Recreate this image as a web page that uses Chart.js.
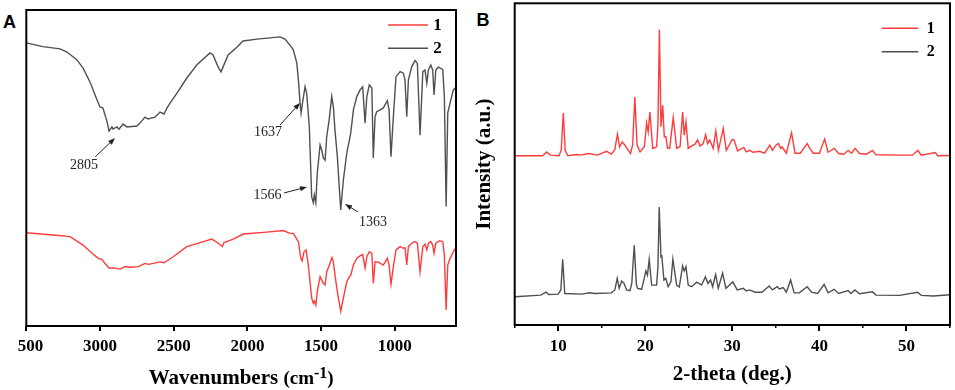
<!DOCTYPE html>
<html><head><meta charset="utf-8">
<script src="https://cdn.jsdelivr.net/npm/chart.js@4.4.0/dist/chart.umd.min.js"></script>
<style>
html,body{margin:0;padding:0;background:#fff;width:955px;height:390px;overflow:hidden;position:relative}
canvas{position:absolute;top:0}
#cA{left:18px}
#cB{left:470px}
.pl{position:absolute;font:bold 18px "Liberation Sans",Arial,sans-serif;line-height:18px;color:#000}
</style></head><body>
<div class="pl" style="left:3px;top:12.5px">A</div>
<div class="pl" style="left:476.5px;top:11px">B</div>
<canvas id="cA" width="452" height="390"></canvas>
<canvas id="cB" width="485" height="390"></canvas>
<script>
// ---------- data ----------
const seriesNames = ['1', '2'];

// Panel A: FTIR, [wavenumber cm-1, transmittance a.u.]
const ftirSample1 = [[3500,29.5],[3319,28.8],[3203,28.3],[3115,25.6],[3056,23.1],[3011,21.4],[2988,21.1],[2966,19.8],[2937,18.3],[2910,18.4],[2864,18.0],[2830,18.8],[2796,18.6],[2740,18.8],[2695,19.8],[2672,19.5],[2638,19.8],[2593,20.3],[2566,20.0],[2503,21.9],[2412,25.1],[2321,26.4],[2242,27.5],[2197,26.2],[2170,25.1],[2159,26.4],[2096,27.5],[2028,29.1],[1869,29.7],[1756,30.2],[1711,29.3],[1688,29.3],[1654,26.7],[1638,21.4],[1629,20.6],[1616,23.5],[1602,24.1],[1587,19.3],[1564,8.8],[1553,7.2],[1546,7.9],[1536,6.6],[1526,10.9],[1507,15.6],[1496,14.6],[1485,13.5],[1473,13.0],[1462,17.2],[1444,19.3],[1426,21.7],[1417,20.3],[1406,16.1],[1390,10.9],[1367,4.7],[1349,8.8],[1326,14.0],[1308,15.6],[1299,16.1],[1281,19.3],[1258,21.4],[1236,22.2],[1218,22.7],[1202,18.3],[1190,21.9],[1173,23.5],[1156,23.0],[1146,13.5],[1134,20.3],[1112,20.2],[1078,19.3],[1051,21.4],[1039,19.3],[1026,13.2],[1010,18.8],[992,24.1],[964,25.1],[942,24.6],[931,24.8],[919,19.3],[908,25.1],[885,26.2],[863,26.7],[847,26.2],[829,17.2],[810,25.1],[795,25.9],[783,24.1],[772,26.2],[756,26.7],[743,25.6],[734,23.0],[722,26.2],[697,27.0],[675,26.7],[664,22.5],[652,5.1],[641,19.3],[625,21.4],[603,23.5],[585,25.0]];
const ftirSample2 = [[3500,89.6],[3387,88.4],[3271,87.7],[3224,86.7],[3156,84.2],[3115,81.6],[3068,77.2],[3020,71.5],[3000,69.3],[2980,69.0],[2952,64.6],[2939,61.7],[2919,63.0],[2912,62.3],[2885,63.0],[2871,62.3],[2844,63.9],[2817,63.0],[2749,63.3],[2729,64.2],[2695,66.1],[2674,65.5],[2627,66.1],[2593,67.7],[2566,67.1],[2545,69.0],[2524,70.6],[2478,73.7],[2412,78.4],[2344,82.6],[2254,86.4],[2233,85.8],[2199,82.0],[2179,80.4],[2165,82.0],[2131,85.8],[2070,88.3],[2030,90.2],[1935,90.8],[1779,91.5],[1745,90.8],[1697,88.0],[1688,87.3],[1665,83.2],[1654,77.8],[1643,70.6],[1636,67.4],[1625,71.0],[1609,75.7],[1598,73.7],[1580,63.0],[1564,40.9],[1553,39.0],[1546,41.5],[1536,39.0],[1526,48.4],[1507,57.3],[1496,55.7],[1485,53.2],[1473,52.5],[1462,59.9],[1444,65.8],[1428,72.6],[1417,69.4],[1406,62.0],[1390,53.6],[1367,36.7],[1349,46.2],[1326,54.7],[1308,58.9],[1299,61.1],[1281,68.4],[1258,72.6],[1236,74.7],[1218,75.7],[1202,64.2],[1190,72.6],[1173,76.3],[1156,75.3],[1146,53.2],[1134,66.2],[1123,67.8],[1100,68.4],[1078,69.0],[1051,71.3],[1039,68.4],[1026,53.6],[1010,66.2],[992,78.9],[964,80.5],[942,80.0],[931,77.8],[919,66.2],[908,77.8],[885,82.1],[863,84.0],[847,83.1],[829,60.4],[810,80.5],[795,81.0],[783,76.8],[772,81.0],[756,82.6],[743,81.0],[734,73.1],[722,81.0],[705,81.9],[675,81.2],[664,72.6],[652,37.8],[641,67.4],[625,70.6],[603,74.7],[585,75.6]];
const ftirTicks = [3500, 3000, 2500, 2000, 1500, 1000];
const ftirPeaks = [
  {text: '2805', at: [3108, 50.9], from: [3033, 53.5], to: [2898, 59.5]},
  {text: '1637', at: [1860, 61.4], from: [1779, 63.6], to: [1643, 70.6]},
  {text: '1566', at: [1863, 41.5], from: [1752, 42.1], to: [1596, 44.0]},
  {text: '1363', at: [1148, 32.9], from: [1250, 36.1], to: [1338, 38.6]}
];

// Panel B: XRD, [2-theta deg, intensity a.u.]
const xrdSample1 = [[5.0,52.6],[8.2,52.6],[8.67,53.8],[9.1,52.8],[10.1,52.6],[10.35,54.5],[10.58,65.9],[10.8,54.3],[11.1,52.6],[12.1,53.0],[12.6,52.8],[13.45,53.3],[14.5,52.8],[15.56,54.0],[16.1,53.1],[16.5,54.5],[16.8,59.3],[17.05,55.4],[17.35,56.9],[17.6,56.1],[18.3,53.3],[18.55,56.0],[18.8,70.9],[19.05,56.0],[19.4,53.8],[19.9,55.5],[20.15,62.8],[20.33,60.0],[20.53,66.2],[20.85,54.9],[21.3,55.4],[21.45,62.0],[21.62,91.8],[21.8,61.6],[22.0,68.3],[22.18,58.5],[22.37,58.5],[22.55,55.0],[22.8,54.9],[23.21,64.5],[23.6,54.9],[24.0,55.5],[24.29,66.2],[24.47,59.0],[24.67,63.1],[24.93,54.9],[25.3,55.6],[25.7,56.2],[26.0,57.5],[26.3,55.6],[26.65,56.4],[26.93,59.2],[27.16,56.4],[27.4,57.5],[27.8,54.9],[28.1,60.3],[28.4,54.3],[28.95,61.1],[29.3,54.3],[30.0,57.7],[30.2,57.5],[30.6,54.1],[31.3,55.2],[31.6,53.8],[32.0,54.3],[32.4,53.7],[33.1,54.0],[33.7,53.4],[34.3,55.9],[34.6,54.3],[35.0,55.9],[35.3,56.4],[35.55,54.9],[35.7,55.4],[36.2,53.4],[36.8,59.7],[37.2,53.4],[37.8,53.4],[38.6,56.4],[38.9,54.9],[39.3,53.4],[40.0,53.4],[40.6,57.8],[41.0,53.7],[41.7,54.9],[42.2,53.3],[42.8,53.1],[43.3,54.3],[43.7,53.4],[44.1,54.9],[44.6,53.3],[45.4,53.1],[46.1,54.3],[46.5,52.9],[49.2,52.8],[50.7,52.8],[51.3,54.3],[51.7,52.8],[53.3,53.6],[53.6,52.6],[55.0,52.7]];
const xrdSample2 = [[5.0,8.8],[8.0,9.3],[8.6,10.2],[8.9,9.5],[10.0,9.6],[10.3,10.9],[10.51,20.4],[10.75,9.8],[12.7,9.6],[13.6,10.0],[14.2,9.8],[16.1,10.0],[16.5,10.9],[16.78,14.5],[17.0,11.4],[17.28,13.7],[17.55,13.0],[17.86,10.9],[18.24,10.7],[18.45,13.0],[18.73,24.8],[18.98,12.5],[19.12,11.4],[19.58,11.1],[20.07,16.8],[20.25,15.5],[20.45,20.4],[20.73,12.4],[21.03,12.4],[21.3,12.4],[21.45,18.0],[21.6,36.7],[21.8,21.2],[21.9,21.4],[22.14,14.0],[22.35,14.5],[22.63,11.9],[22.95,13.5],[23.17,20.5],[23.6,12.4],[23.9,11.8],[24.29,18.4],[24.47,16.8],[24.67,18.1],[24.93,12.4],[25.32,11.9],[25.9,13.3],[26.47,12.4],[26.9,15.0],[27.2,12.9],[27.5,14.0],[27.73,11.9],[28.08,15.7],[28.38,11.4],[28.88,16.1],[29.26,11.4],[30.05,13.4],[30.56,10.9],[31.25,11.4],[31.6,10.6],[32.0,10.9],[32.6,10.2],[33.4,10.2],[34.23,12.1],[34.6,10.9],[35.15,11.9],[35.4,11.2],[35.84,11.6],[36.2,10.2],[36.69,14.0],[37.1,10.0],[37.7,10.0],[38.59,11.9],[39.1,10.2],[39.8,9.8],[40.54,12.6],[41.0,10.0],[41.69,11.1],[42.2,9.8],[43.3,10.7],[43.6,9.8],[44.07,10.9],[44.6,9.7],[46.1,10.3],[46.5,9.3],[49.2,9.2],[51.27,10.2],[51.7,9.2],[53.1,9.0],[55.0,9.4]];
const xrdTicks = [10, 20, 30, 40, 50];
const xrdMinorTicks = [5, 15, 25, 35, 45, 55];

// ---------- styling / helpers ----------
const RED = '#ff3b3b', GRAY = '#505050';
const SERIF = '"Liberation Serif", "Times New Roman", serif';
const toXY = arr => arr.map(p => ({x: p[0], y: p[1]}));
const plain = v => String(v);

const framePlugin = {
  id: 'frame',
  afterDatasetsDraw(chart) {
    const {ctx, chartArea: a} = chart;
    ctx.save();
    ctx.strokeStyle = '#000'; ctx.lineWidth = 2;
    ctx.strokeRect(a.left, a.top, a.right - a.left, a.bottom - a.top);
    ctx.restore();
  }
};
const insideLegend = {
  id: 'insideLegend',
  afterDraw(chart, args, o) {
    const {ctx, chartArea: a} = chart;
    ctx.save();
    ctx.font = o.font; ctx.textBaseline = 'middle'; ctx.textAlign = 'left';
    chart.data.datasets.forEach((ds, i) => {
      const y = a.top + o.y0 + i * o.dy;
      ctx.strokeStyle = ds.borderColor; ctx.lineWidth = 1.4;
      ctx.beginPath(); ctx.moveTo(a.right - o.x0, y); ctx.lineTo(a.right - o.x1, y); ctx.stroke();
      ctx.fillStyle = '#000'; ctx.fillText(ds.label, a.right - o.xt, y + 0.5);
    });
    ctx.restore();
  }
};
const arrowNotes = {
  id: 'arrowNotes',
  afterDatasetsDraw(chart, args, o) {
    const {ctx, scales: {x, y}} = chart;
    ctx.save();
    ctx.font = o.font; ctx.fillStyle = o.color; ctx.strokeStyle = o.color;
    ctx.textAlign = 'center'; ctx.textBaseline = 'middle';
    (o.items || []).forEach(n => {
      ctx.fillText(n.text, x.getPixelForValue(n.at[0]), y.getPixelForValue(n.at[1]));
      const x0 = x.getPixelForValue(n.from[0]), y0 = y.getPixelForValue(n.from[1]);
      const x1 = x.getPixelForValue(n.to[0]), y1 = y.getPixelForValue(n.to[1]);
      const ang = Math.atan2(y1 - y0, x1 - x0), L = 7, W = 2.6;
      ctx.lineWidth = 1;
      ctx.beginPath(); ctx.moveTo(x0, y0); ctx.lineTo(x1 - 4 * Math.cos(ang), y1 - 4 * Math.sin(ang)); ctx.stroke();
      ctx.beginPath(); ctx.moveTo(x1, y1);
      ctx.lineTo(x1 - L * Math.cos(ang) + W * Math.sin(ang), y1 - L * Math.sin(ang) - W * Math.cos(ang));
      ctx.lineTo(x1 - L * Math.cos(ang) - W * Math.sin(ang), y1 - L * Math.sin(ang) + W * Math.cos(ang));
      ctx.closePath(); ctx.fill();
    });
    ctx.restore();
  }
};
// x-axis title with a real superscript, centred under the plot area
const supTitle = {
  id: 'supTitle',
  afterDraw(chart, args, o) {
    const {ctx, chartArea: a} = chart;
    ctx.save();
    ctx.fillStyle = '#000'; ctx.textBaseline = 'alphabetic'; ctx.textAlign = 'left';
    let total = 0;
    o.parts.forEach(p => { ctx.font = p.font; p.w = ctx.measureText(p.text).width; total += p.w; });
    let x = (a.left + a.right) / 2 - total / 2;
    o.parts.forEach(p => { ctx.font = p.font; ctx.fillText(p.text, x, o.baseline - (p.rise || 0)); x += p.w; });
    ctx.restore();
  }
};

const lineDs = (label, data, color) => ({
  label, data: toXY(data), borderColor: color, backgroundColor: color,
  borderWidth: 1.4, pointRadius: 0, tension: 0, fill: false
});

// ---------- Panel A ----------
new Chart(document.getElementById('cA'), {
  type: 'line',
  data: {datasets: [lineDs(seriesNames[0], ftirSample1, RED), lineDs(seriesNames[1], ftirSample2, GRAY)]},
  plugins: [framePlugin, insideLegend, arrowNotes, supTitle],
  options: {
    responsive: false, animation: false, events: [],
    layout: {padding: {left: 8.3, right: 14, top: 10, bottom: 0}},
    plugins: {
      legend: {display: false}, tooltip: {enabled: false},
      insideLegend: {font: 'bold 17px ' + SERIF, y0: 15, dy: 23.3, x0: 68, x1: 28, xt: 22.7},
      arrowNotes: {font: '14px ' + SERIF, color: '#222', items: ftirPeaks},
      supTitle: {baseline: 384, parts: [
        {text: 'Wavenumbers ', font: 'bold 21px ' + SERIF},
        {text: '(cm', font: 'bold 19px ' + SERIF},
        {text: '-1', font: 'bold 16px ' + SERIF, rise: 6},
        {text: ')', font: 'bold 19px ' + SERIF}
      ]}
    },
    scales: {
      x: {
        type: 'linear', reverse: true, min: 585, max: 3500,
        afterBuildTicks: s => { s.ticks = ftirTicks.map(v => ({value: v})); },
        afterFit: s => { s.height = 64; s.paddingLeft = 0; s.paddingRight = 0; },
        grid: {display: true, drawOnChartArea: false, drawTicks: true, tickLength: 5, color: '#000', lineWidth: 2},
        border: {display: false},
        ticks: {color: '#000', font: {family: SERIF, size: 17, weight: 'bold'}, padding: 5.8, maxRotation: 0, autoSkip: false, callback: plain},
        title: {display: false}
      },
      y: {display: false, min: 0, max: 100}
    }
  }
});

// ---------- Panel B ----------
new Chart(document.getElementById('cB'), {
  type: 'line',
  data: {datasets: [lineDs(seriesNames[0], xrdSample1, RED), lineDs(seriesNames[1], xrdSample2, GRAY)]},
  plugins: [framePlugin, insideLegend],
  options: {
    responsive: false, animation: false, events: [],
    layout: {padding: {left: 0, right: 5, top: 3.3, bottom: 0}},
    plugins: {
      legend: {display: false}, tooltip: {enabled: false},
      insideLegend: {font: 'bold 16px ' + SERIF, y0: 25, dy: 23.4, x0: 68.3, x1: 31.7, xt: 23.3}
    },
    scales: {
      xMinor: {
        type: 'linear', position: 'bottom', weight: 0, min: 5, max: 55,
        afterBuildTicks: s => { s.ticks = xrdMinorTicks.map(v => ({value: v})); },
        afterFit: s => { s.height = 0; s.paddingLeft = 0; s.paddingRight = 0; },
        grid: {display: true, drawOnChartArea: false, drawTicks: true, tickLength: 3, color: '#000', lineWidth: 1.5},
        border: {display: false},
        ticks: {display: false}
      },
      x: {
        type: 'linear', position: 'bottom', weight: 1, min: 5, max: 55,
        afterBuildTicks: s => { s.ticks = xrdTicks.map(v => ({value: v})); },
        afterFit: s => { s.height = 65; s.paddingLeft = 0; s.paddingRight = 0; },
        grid: {display: true, drawOnChartArea: false, drawTicks: true, tickLength: 6, color: '#000', lineWidth: 2},
        border: {display: false},
        ticks: {color: '#000', font: {family: SERIF, size: 17, weight: 'bold'}, padding: 5.5, maxRotation: 0, autoSkip: false, callback: plain},
        title: {display: true, text: '2-theta (deg.)', color: '#000', font: {family: SERIF, size: 21, weight: 'bold'}, padding: {top: 0, bottom: 2.4}}
      },
      y: {
        min: 0, max: 100,
        afterFit: s => { s.width = 44.7; },
        ticks: {display: false}, grid: {display: false}, border: {display: false},
        title: {display: true, text: 'Intensity (a.u.)', color: '#000', font: {family: SERIF, size: 21, weight: 'bold'}, padding: {top: 1.5, bottom: 0}}
      }
    }
  }
});
</script>
</body></html>
